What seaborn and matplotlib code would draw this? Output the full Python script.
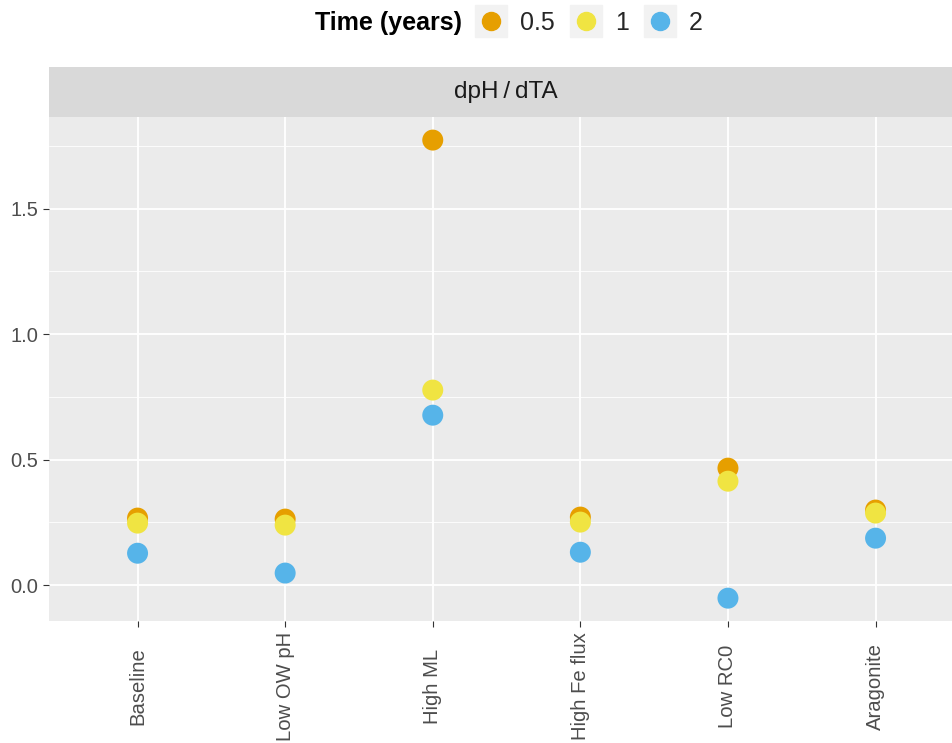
import matplotlib
matplotlib.use("Agg")
import matplotlib.pyplot as plt
import seaborn as sns
import pandas as pd
from matplotlib.lines import Line2D
from matplotlib.legend_handler import HandlerTuple

categories = ["Baseline", "Low OW pH", "High ML", "High Fe flux", "Low RC0", "Aragonite"]
times = ["0.5", "1", "2"]
vals_05 = [0.267, 0.263, 1.773, 0.271, 0.466, 0.299]
vals_1 = [0.247, 0.239, 0.777, 0.251, 0.414, 0.287]
vals_2 = [0.127, 0.048, 0.677, 0.131, -0.052, 0.187]
colors = ["#E69F00", "#F0E442", "#56B4E9"]

rows = []
for t, vals in zip(times, [vals_05, vals_1, vals_2]):
    for c, v in zip(categories, vals):
        rows.append({"scenario": c, "time": t, "value": v})
df = pd.DataFrame(rows)
df["x"] = df["scenario"].map({c: i for i, c in enumerate(categories)})

sns.set_theme(style="white")
plt.rcParams["font.family"] = ["Liberation Sans", "DejaVu Sans"]

W, H = 953, 743
fig = plt.figure(figsize=(W / 100, H / 100), dpi=100)
left, right_px = 49, 49 + 6.2 * 147.6
top, bottom = 117, 621
ax = fig.add_axes([left / W, 1 - bottom / H, (right_px - left) / W, (bottom - top) / H])
ax.set_facecolor("#EBEBEB")

sns.scatterplot(data=df, x="x", y="value", hue="time", hue_order=times,
                palette=colors, s=228, linewidth=0, ax=ax, legend=False, zorder=3)

ax.set_xlim(-0.6, 5.6)
ax.set_ylim(-0.143, 1.865)
ax.set_xticks(range(len(categories)))
ax.set_xticklabels(categories, rotation=90, fontsize=14.6, color="#4D4D4D",
                   va="center", ha="center")
ax.set_yticks([0, 0.5, 1.0, 1.5])
ax.set_yticklabels(["0.0", "0.5", "1.0", "1.5"], fontsize=14.5, color="#4D4D4D")
ax.set_yticks([0.25, 0.75, 1.25, 1.75], minor=True)
ax.grid(True, which="major", color="white", linewidth=1.3, zorder=0)
ax.grid(True, which="minor", axis="y", color="white", linewidth=0.6, zorder=0)
ax.set_axisbelow(True)
ax.tick_params(axis="y", which="major", length=4, width=0.8, color="#333333", left=True, pad=4)
ax.tick_params(axis="x", which="major", length=4, width=0.8, color="#333333", bottom=True,
               pad=43)
ax.tick_params(axis="both", which="minor", length=0)
for s in ax.spines.values():
    s.set_visible(False)
ax.set_xlabel("")
ax.set_ylabel("")

# strip
strip = fig.add_axes([left / W, 1 - top / H, (right_px - left) / W, 50 / H])
strip.set_facecolor("#D9D9D9")
strip.set_xticks([]); strip.set_yticks([])
for s in strip.spines.values():
    s.set_visible(False)
strip.text((506 - left) / (right_px - left), 0.5, "dpH\u2009/\u2009dTA", ha="center", va="center",
           fontsize=17.5, color="#1A1A1A", transform=strip.transAxes)

# legend
fig.text(462 / W, 1 - 23 / H, "Time (years)", ha="right", va="center",
         fontsize=18, fontweight="bold", color="black")
handles = []
for c in colors:
    bg = Line2D([], [], marker="s", markersize=23.5, color="#F2F2F2", linestyle="none")
    dot = Line2D([], [], marker="o", markersize=13, color=c, linestyle="none")
    handles.append((bg, dot))
leg = fig.legend(handles, times, loc="center left", bbox_to_anchor=(475 / W, 1 - 22.5 / H),
                 ncol=3, frameon=False, fontsize=18, handler_map={tuple: HandlerTuple(ndivide=1)},
                 handlelength=1.32, handletextpad=0.48, columnspacing=0.6, borderaxespad=0,
                 borderpad=0)

fig.savefig("out.png", dpi=100)
